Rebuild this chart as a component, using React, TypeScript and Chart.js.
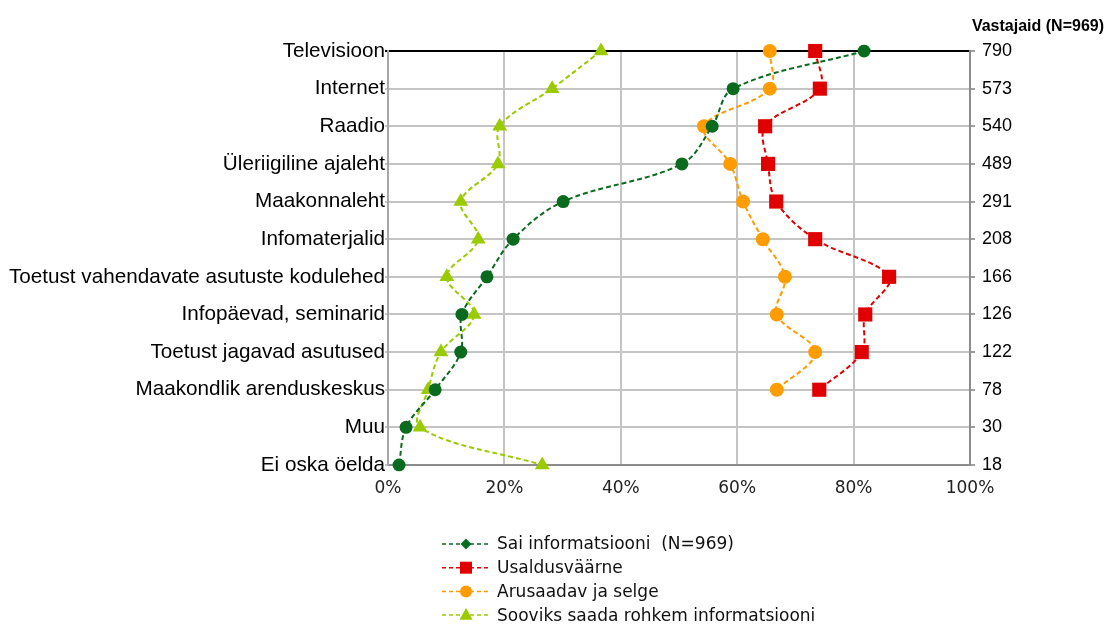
import { useEffect, useRef } from "react";
import { Chart, registerables } from "chart.js";

Chart.register(...registerables);

const categories = [
  "Televisioon",
  "Internet",
  "Raadio",
  "Üleriigiline ajaleht",
  "Maakonnaleht",
  "Infomaterjalid",
  "Toetust vahendavate asutuste kodulehed",
  "Infopäevad, seminarid",
  "Toetust jagavad asutused",
  "Maakondlik arenduskeskus",
  "Muu",
  "Ei oska öelda",
];
const respondents = ["790", "573", "540", "489", "291", "208", "166", "126", "122", "78", "30", "18"];
const saiInformatsiooni = [81.8, 59.3, 55.7, 50.5, 30.1, 21.5, 17.0, 12.7, 12.5, 8.1, 3.1, 1.9];
const usaldusvaarne = [73.4, 74.2, 64.8, 65.3, 66.7, 73.4, 86.1, 82.0, 81.4, 74.1, null, null];
const arusaadav = [65.6, 65.6, 54.3, 58.8, 61.0, 64.4, 68.2, 66.8, 73.4, 66.8, null, null];
const sooviks = [36.6, 28.2, 19.2, 18.9, 12.5, 15.5, 10.1, 14.8, 9.1, 6.9, 5.5, 26.5];
const seriesNames = [
  "Sai informatsiooni  (N=969)",
  "Usaldusväärne",
  "Arusaadav ja selge",
  "Sooviks saada rohkem informatsiooni",
];
const xMin = 0;
const xMax = 100;
const xStep = 20;

const GREEN = "#0a6a1e";
const RED = "#e00000";
const ORANGE = "#ff9c00";
const LIME = "#9acb00";

function drawMarker(ctx: CanvasRenderingContext2D, style: string, x: number, y: number, r: number) {
  ctx.beginPath();
  if (style === "rectRot") {
    ctx.moveTo(x, y - r);
    ctx.lineTo(x + r, y);
    ctx.lineTo(x, y + r);
    ctx.lineTo(x - r, y);
    ctx.closePath();
  } else if (style === "rect") {
    ctx.rect(x - r, y - r, 2 * r, 2 * r);
  } else if (style === "circle") {
    ctx.arc(x, y, r, 0, Math.PI * 2);
  } else {
    ctx.moveTo(x, y - r * 1.1);
    ctx.lineTo(x + r, y + r * 0.7);
    ctx.lineTo(x - r, y + r * 0.7);
    ctx.closePath();
  }
  ctx.fill();
}

const legendStyles = ["rectRot", "rect", "circle", "triangle"];
const legendSizes = [5.5, 6, 6, 6.5];

const customLegend = {
  id: "customLegend",
  afterDraw(chart: any) {
    const ctx: CanvasRenderingContext2D = chart.ctx;
    const area = chart.chartArea;
    const x0 = area.left + 54;
    const y0 = area.bottom + 79;
    const step = 23.7;
    chart.data.datasets.forEach((ds: any, i: number) => {
      const y = y0 + i * step;
      ctx.save();
      ctx.strokeStyle = ds.borderColor;
      ctx.lineWidth = 1.5;
      ctx.setLineDash([4, 3]);
      ctx.beginPath();
      ctx.moveTo(x0, y);
      ctx.lineTo(x0 + 48, y);
      ctx.stroke();
      ctx.setLineDash([]);
      ctx.fillStyle = ds.borderColor;
      drawMarker(ctx, legendStyles[i], x0 + 24, y, legendSizes[i]);
      ctx.fillStyle = "#111";
      ctx.font = "17px 'DejaVu Sans'";
      ctx.textBaseline = "middle";
      ctx.textAlign = "left";
      ctx.fillText(ds.label, x0 + 55, y + 1);
      ctx.restore();
    });
  },
};

export default function App() {
  const canvasRef = useRef<HTMLCanvasElement | null>(null);

  useEffect(() => {
    if (!canvasRef.current) return;
    const common = {
      borderWidth: 2,
      borderDash: [5, 3],
      tension: 0.35,
      fill: false,
      spanGaps: false,
      pointBorderWidth: 0,
    };
    const chart = new Chart(canvasRef.current, {
      type: "line",
      data: {
        labels: categories,
        datasets: [
          {
            ...common,
            label: seriesNames[0],
            data: saiInformatsiooni,
            borderColor: GREEN,
            backgroundColor: GREEN,
            pointBackgroundColor: GREEN,
            pointStyle: "circle",
            pointRadius: 6.5,
          },
          {
            ...common,
            label: seriesNames[1],
            data: usaldusvaarne,
            borderColor: RED,
            backgroundColor: RED,
            pointBackgroundColor: RED,
            pointStyle: "rect",
            pointRadius: 10,
          },
          {
            ...common,
            label: seriesNames[2],
            data: arusaadav,
            borderColor: ORANGE,
            backgroundColor: ORANGE,
            pointBackgroundColor: ORANGE,
            pointStyle: "circle",
            pointRadius: 7,
          },
          {
            ...common,
            label: seriesNames[3],
            data: sooviks,
            borderColor: LIME,
            backgroundColor: LIME,
            pointBackgroundColor: LIME,
            pointStyle: "triangle",
            pointRadius: 8.5,
          },
        ] as any,
      },
      options: {
        indexAxis: "y",
        animation: false,
        responsive: true,
        maintainAspectRatio: false,
        layout: { padding: { left: 0, right: 8, top: 0, bottom: 0 } },
        plugins: {
          legend: { display: false },
          tooltip: { enabled: false },
          title: {
            display: true,
            text: "Vastajaid (N=969)",
            align: "end",
            color: "#000",
            font: { family: "'Liberation Sans', Arial", size: 16, weight: "bold" },
            padding: { top: 17.4, bottom: 14.4 },
          },
        },
        scales: {
          x: {
            type: "linear",
            min: xMin,
            max: xMax,
            position: "bottom",
            ticks: {
              stepSize: xStep,
              callback: (v: any) => v + "%",
              color: "#222",
              font: { family: "'DejaVu Sans'", size: 17 },
              padding: 13,
            },
            grid: { color: "#c4c4c4", lineWidth: 2, drawTicks: false },
            border: { color: "#8c8c8c", width: 2 },
            afterFit: (s: any) => {
              s.height = 160;
            },
          },
          y: {
            type: "category",
            position: "left",
            offset: false,
            ticks: {
              color: "#000",
              font: { family: "'Liberation Sans', Arial", size: 20.7 },
              padding: 0,
              autoSkip: false,
            },
            grid: {
              color: (c: any) => (c.index === 0 ? "#000" : "#c4c4c4"),
              lineWidth: 2,
              tickLength: 3,
            },
            border: { color: "#a8a8a8", width: 2 },
            afterFit: (s: any) => {
              s.width = 388;
            },
          },
          y2: {
            type: "category",
            position: "right",
            labels: respondents,
            offset: false,
            ticks: {
              color: "#000",
              font: { family: "'Liberation Sans', Arial", size: 18 },
              padding: 7,
              autoSkip: false,
            },
            grid: {
              drawOnChartArea: false,
              color: "#a0a0a0",
              lineWidth: 2,
              tickLength: 5,
            },
            border: { color: "#8c8c8c", width: 2 },
            afterFit: (s: any) => {
              s.width = 134;
            },
          },
        },
      } as any,
      plugins: [customLegend],
    });
    return () => chart.destroy();
  }, []);

  return (
    <div style={{ position: "absolute", left: 0, top: 0, width: 1112, height: 625 }}>
      <canvas ref={canvasRef} />
    </div>
  );
}
